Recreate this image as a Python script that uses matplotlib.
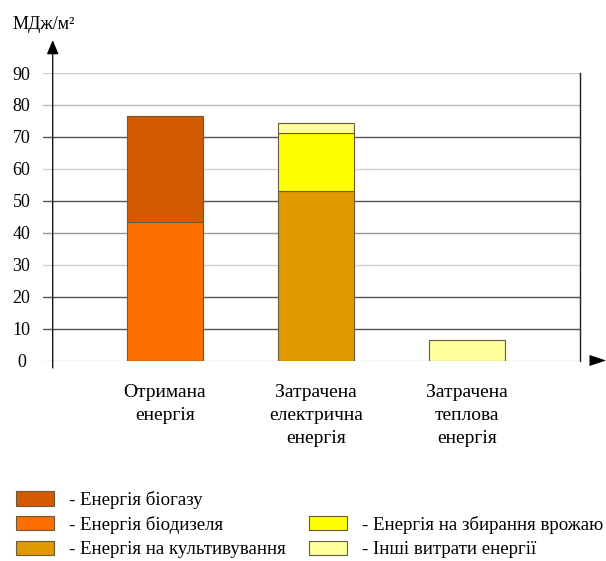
import matplotlib
matplotlib.use("Agg")
import matplotlib.pyplot as plt
from matplotlib.patches import Patch
import numpy as np

plt.rcParams['font.family'] = ['Liberation Serif', 'DejaVu Serif']

categories = ["Отримана\nенергія", "Затрачена\nелектрична\nенергія", "Затрачена\nтеплова\nенергія"]
series_names = ["Енергія біогазу", "Енергія біодизеля", "Енергія на культивування",
                "Енергія на збирання врожаю", "Інші витрати енергії"]
# stacked order: biodiesel, biogas (bar 1); cultivation, harvest, other
biodiesel = [43.4, 0, 0]
biogas = [33.0, 0, 0]
cultivation = [0, 53.2, 0]
harvest = [0, 18.0, 0]
other = [0, 3.1, 6.3]
yticks = [0, 10, 20, 30, 40, 50, 60, 70, 80, 90]
ylabel = "МДж/м²"

colors = {
    "biogas": "#D35A00",
    "biodiesel": "#FF6F00",
    "cultivation": "#E09A00",
    "harvest": "#FFFF00",
    "other": "#FFFF99",
}
grid_colors = ["#d0d0d0", "#555555", "#555555", "#d0d0d0", "#999999",
               "#555555", "#d0d0d0", "#555555", "#bbbbbb", "#cccccc"]

W, H = 606, 561
fig = plt.figure(figsize=(W / 100, H / 100), dpi=100)
ax = fig.add_axes([43 / W, 1 - 360.5 / H, (580 - 43) / W, (360.5 - 73) / H])

x = np.arange(len(categories))
xl = (43 - 165) / 151
xr = (580 - 165) / 151
ax.set_xlim(xl, xr)
ax.set_ylim(0, 90)

for yv, gc in zip(yticks, grid_colors):
    ax.axhline(yv, color=gc, lw=1.0, zorder=0.5)

bw = 0.5
ec = "#6b5a3a"
lw = 0.8
ax.bar(x, biodiesel, bw, color=colors["biodiesel"], edgecolor=ec, linewidth=lw, zorder=2)
ax.bar(x, biogas, bw, bottom=biodiesel, color=colors["biogas"], edgecolor=ec, linewidth=lw, zorder=2)
b1 = np.array(cultivation)
ax.bar(x, cultivation, bw, color=colors["cultivation"], edgecolor=ec, linewidth=lw, zorder=2)
ax.bar(x, harvest, bw, bottom=b1, color=colors["harvest"], edgecolor=ec, linewidth=lw, zorder=2)
b2 = b1 + np.array(harvest)
ax.bar(x, other, bw, bottom=b2, color=colors["other"], edgecolor=ec, linewidth=lw, zorder=2)

for s in ["top", "left", "bottom"]:
    ax.spines[s].set_visible(False)
ax.spines["right"].set_color("#222222")
ax.spines["right"].set_linewidth(1.0)

ax.set_yticks(yticks)
ax.set_yticklabels([str(v) for v in yticks], fontsize=13, ha="center")
ax.tick_params(axis="y", length=0, pad=15.5)
ax.set_xticks(x)
ax.set_xticklabels(categories, fontsize=14, linespacing=1.45)
ax.tick_params(axis="x", length=0, pad=17)

# y axis with arrow
xa = (52.7 - 165) / 151
ax.annotate('', xy=(xa, 100.3), xytext=(xa, -2.35), xycoords='data',
            arrowprops=dict(arrowstyle='-|>,head_length=0.43,head_width=0.18', lw=0.9,
                            color='black', mutation_scale=20, shrinkA=0, shrinkB=0),
            annotation_clip=False)
# x axis arrow head
ax.annotate('', xy=((606 - 165) / 151, 0), xytext=((590 - 165) / 151, 0), xycoords='data',
            arrowprops=dict(arrowstyle='-|>,head_length=0.54,head_width=0.18', lw=0.5,
                            color='black', mutation_scale=20, shrinkA=0, shrinkB=0),
            annotation_clip=False)

fig.text(13 / W, 1 - 16 / H, ylabel, fontsize=13, ha="left", va="top")

handles = [
    Patch(facecolor=colors["biogas"], edgecolor=ec, lw=0.8),
    Patch(facecolor=colors["biodiesel"], edgecolor=ec, lw=0.8),
    Patch(facecolor=colors["cultivation"], edgecolor=ec, lw=0.8),
    Patch(facecolor="none", edgecolor="none"),
    Patch(facecolor=colors["harvest"], edgecolor=ec, lw=0.8),
    Patch(facecolor=colors["other"], edgecolor=ec, lw=0.8),
]
labels = ["- " + series_names[0], "- " + series_names[1], "- " + series_names[2], "",
          "- " + series_names[3], "- " + series_names[4]]
fs = 13.6
px = fs * 100 / 72
fig.legend(handles, labels, ncol=2, loc="upper left", bbox_to_anchor=(16 / W, 1 - 491 / H),
           frameon=False, fontsize=fs, handlelength=38 / px, handleheight=15 / px,
           handletextpad=15 / px, labelspacing=0.36, columnspacing=23 / px, borderpad=0,
           borderaxespad=0)

fig.savefig("out.png", dpi=100)
